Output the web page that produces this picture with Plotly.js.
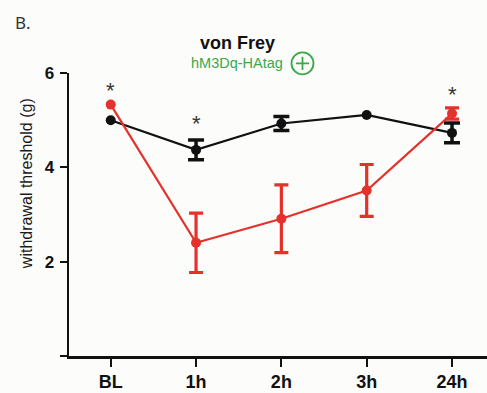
<!DOCTYPE html>
<html>
<head>
<meta charset="utf-8">
<script src="https://cdn.plot.ly/plotly-3.0.1.min.js"></script>
<style>html,body{margin:0;padding:0;background:#fcfcfa;}#chart{width:487px;height:393px;}</style>
</head>
<body>
<div id="chart"></div>
<script>
// Data
const timepoints = ["BL", "1h", "2h", "3h", "24h"];
const controlMean = [5.0, 4.37, 4.93, 5.11, 4.73];
const controlErr  = [NaN, 0.21, 0.15, NaN, 0.21];
const cnoMean     = [5.33, 2.40, 2.91, 3.51, 5.14];
const cnoErr      = [NaN, 0.63, 0.72, 0.55, 0.12];
const sigPoints   = ["BL", "1h", "24h"];
const sigY        = [5.62, 4.92, 5.55];
const yTicks      = [0, 2, 4, 6];
const yTickText   = ["", "2", "4", "6"];

const FONT = "Liberation Sans, Arial, sans-serif";
const RED = "#e5312b";
const BLACK = "#111111";

const traces = [
  {
    x: timepoints, y: controlMean, type: "scatter", mode: "lines+markers",
    line: {color: BLACK, width: 2.2},
    marker: {color: BLACK, size: 10},
    error_y: {type: "data", array: controlErr, visible: true, color: BLACK, thickness: 3.5, width: 8},
    showlegend: false, hoverinfo: "skip"
  },
  {
    x: timepoints, y: cnoMean, type: "scatter", mode: "lines+markers",
    line: {color: RED, width: 2.2},
    marker: {color: RED, size: 10},
    error_y: {type: "data", array: cnoErr, visible: true, color: RED, thickness: 3.2, width: 7},
    showlegend: false, hoverinfo: "skip"
  }
];

const annotations = sigPoints.map((p, i) => ({
  x: p, y: sigY[i], xref: "x", yref: "y", text: "*", showarrow: false,
  font: {family: FONT, size: 22, color: "#333"}, xanchor: "center", yanchor: "middle"
}));

annotations.push(
  {x: 0.404, y: 1.107, xref: "paper", yref: "paper", text: "<b>von Frey</b>", showarrow: false,
   xanchor: "center", yanchor: "middle", font: {family: FONT, size: 18, color: "#111"}},
  {x: 0.403, y: 1.035, xref: "paper", yref: "paper", text: "hM3Dq-HAtag", showarrow: false,
   xanchor: "center", yanchor: "middle", font: {family: FONT, size: 14.5, color: "#3aa84a"}},
  {x: -0.134, y: 1.18, xref: "paper", yref: "paper", text: "B.", showarrow: false,
   xanchor: "left", yanchor: "middle", font: {family: "Noto Sans, sans-serif", size: 17, color: "#333"}},
  {x: -0.1, y: 0.608, xref: "paper", yref: "paper", text: "withdrawal threshold (g)", showarrow: false,
   xanchor: "center", yanchor: "middle", textangle: -90, font: {family: FONT, size: 16, color: "#1a1a1a"}}
);

// circled plus next to construct label (paper coords)
const cx = 0.5586, cy = 1.034, rx = 0.0263, ry = 0.0388;
const shapes = [
  {type: "circle", xref: "paper", yref: "paper", x0: cx - rx, x1: cx + rx, y0: cy - ry, y1: cy + ry,
   line: {color: "#3aa84a", width: 1.8}},
  {type: "line", xref: "paper", yref: "paper", x0: cx - rx * 0.6, x1: cx + rx * 0.6, y0: cy, y1: cy,
   line: {color: "#3aa84a", width: 1.8}},
  {type: "line", xref: "paper", yref: "paper", x0: cx, x1: cx, y0: cy - ry * 0.6, y1: cy + ry * 0.6,
   line: {color: "#3aa84a", width: 1.8}}
];

const layout = {
  width: 487, height: 393,
  margin: {l: 69, r: 0, t: 73, b: 37, pad: 0},
  paper_bgcolor: "#fcfcfa", plot_bgcolor: "#fcfcfa",
  xaxis: {
    type: "category", range: [-0.489, 4.41],
    showline: true, linecolor: "#111", linewidth: 2.5,
    ticks: "outside", ticklen: 8, tickwidth: 2, tickcolor: "#111",
    showgrid: false, zeroline: false, fixedrange: true,
    tickfont: {family: FONT, size: 18, color: "#111", weight: "bold"}
  },
  yaxis: {
    range: [0, 6], tickvals: yTicks, ticktext: yTickText,
    showline: true, linecolor: "#111", linewidth: 2.5,
    ticks: "outside", ticklen: 7, tickwidth: 2, tickcolor: "#111",
    showgrid: false, zeroline: false, fixedrange: true, ticklabelstandoff: 2,
    tickfont: {family: FONT, size: 17, color: "#111", weight: "bold"}
  },
  annotations: annotations,
  shapes: shapes,
  showlegend: false
};

Plotly.newPlot("chart", traces, layout, {displayModeBar: false, staticPlot: true});
</script>
</body>
</html>
